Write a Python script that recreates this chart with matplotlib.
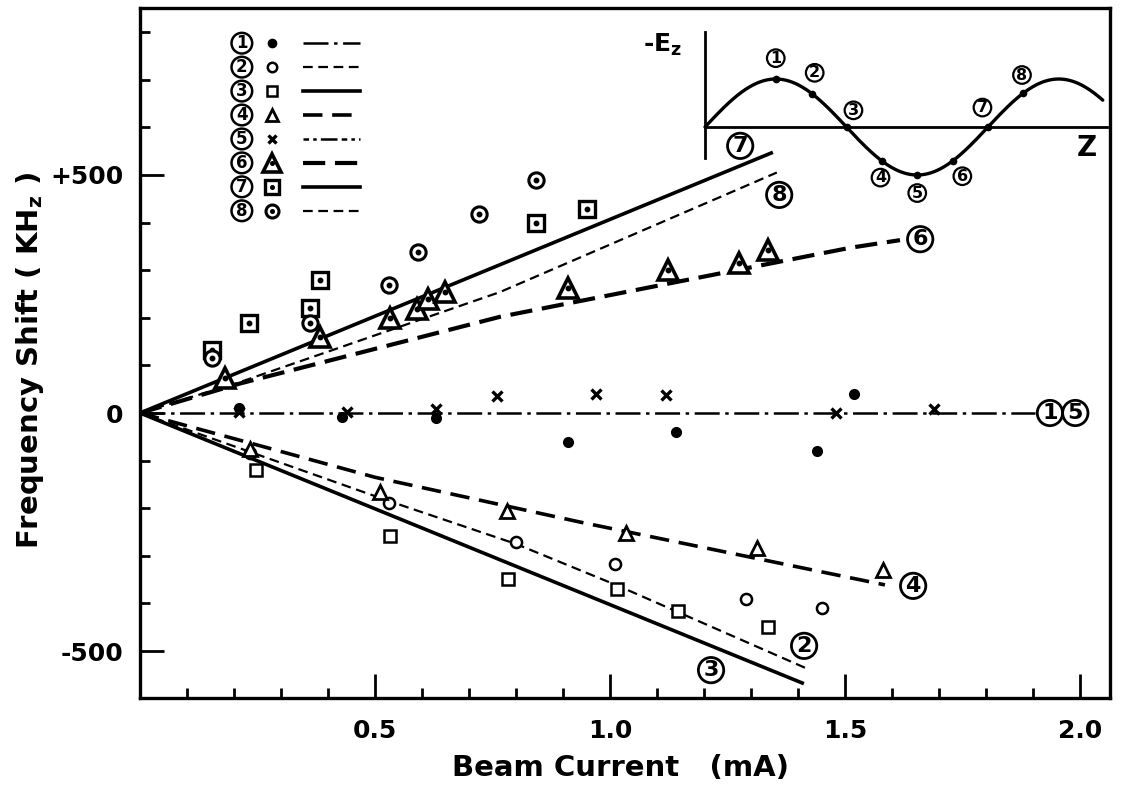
import numpy as np
import matplotlib
matplotlib.use("Agg")
import matplotlib.pyplot as plt

plt.rcParams['font.family'] = ['DejaVu Sans']
plt.rcParams['lines.scale_dashes'] = False

# ---------------- data ----------------
# measured points: beam current (mA) / frequency shift (kHz)
x1 = [0.21, 0.43, 0.63, 0.91, 1.14, 1.44, 1.52]
y1 = [10, -8, -10, -61, -40, -80, 40]
x2 = [0.235, 0.53, 0.80, 1.01, 1.29, 1.45]
y2 = [-85, -189, -271, -318, -391, -410]
x3 = [0.247, 0.532, 0.783, 1.015, 1.145, 1.336]
y3 = [-120, -258, -349, -369, -416, -450]
x4 = [0.233, 0.511, 0.78, 1.034, 1.312, 1.581]
y4 = [-75, -166, -206, -252, -284, -330]
x5 = [0.21, 0.44, 0.63, 0.76, 0.97, 1.12, 1.48, 1.69]
y5 = [2, 2, 8, 36, 40, 38, 0, 8]
x6 = [0.181, 0.383, 0.532, 0.589, 0.613, 0.649, 0.911, 1.123, 1.274, 1.336]
y6 = [74, 160, 200, 218, 239, 254, 263, 300, 315, 342]
x7 = [0.153, 0.232, 0.362, 0.383, 0.843, 0.951]
y7 = [132, 189, 220, 279, 399, 428]
x8 = [0.153, 0.362, 0.530, 0.591, 0.721, 0.843]
y8 = [116, 189, 269, 338, 418, 489]

# hand-drawn fit lines
l15_x = [0, 1.905]; l15_y = [0, 0]
l2_x = [0, 0.53, 0.80, 1.015, 1.415]; l2_y = [0, -185, -275, -362, -535]
l3_x = [0, 1.409]; l3_y = [0, -567]
l4_x = [0, 0.234, 0.5, 0.936, 1.585]; l4_y = [0, -63, -135, -229, -361]
l6_x = [0, 0.213, 0.766, 1.511, 1.617]; l6_y = [0, 62, 202, 347, 363]
l7_x = [0, 1.343]; l7_y = [0, 546]
l8_x = [0, 0.213, 0.766, 1.355]; l8_y = [0, 65, 254, 505]

# line end labels
lab_names = ['7', '8', '6', '4', '2', '3', '1', '5']
lab_x = [1.277, 1.36, 1.66, 1.645, 1.413, 1.215, 1.936, 1.99]
lab_y = [561, 458, 365, -363, -489, -540, 0, 0]

# tick labels
xticks = [0.5, 1.0, 1.5, 2.0]
xticklabels = ['0.5', '1.0', '1.5', '2.0']
yticks = [-500, 0, 500]
yticklabels = ['-500', '0', '+500']

# inset: phase positions (deg) of the eight beam positions on -Ez(z)
inset_names = ['1', '2', '3', '4', '5', '6', '7', '8']
inset_phase = [90, 136, 180, 225, 270, 315, 360, 405]

# ---------------- figure ----------------
W, H = 1130, 790
fig = plt.figure(figsize=(W / 100, H / 100), dpi=100)
L, R, T, B = 140, 1110, 8, 698
ax = fig.add_axes([L / W, 1 - B / H, (R - L) / W, (B - T) / H])
ax.set_xlim(0, (R - L) / 470.0)
ax.set_ylim(-(B - 413) * 2.1, (413 - T) * 2.1)

for s in ax.spines.values():
    s.set_linewidth(2.4)

ax.set_xticks(xticks)
ax.set_xticklabels(xticklabels, fontweight='bold')
ax.set_xticks(np.arange(0.1, 2.05, 0.1), minor=True)
ax.set_yticks(yticks)
ax.set_yticklabels(yticklabels, fontweight='bold')
ax.set_yticks(np.arange(-500, 801, 100), minor=True)
ax.tick_params(which='major', direction='in', length=17, width=2, labelsize=18)
ax.tick_params(which='minor', direction='in', length=7, width=2)
ax.tick_params(axis='x', which='major', pad=15)
ax.tick_params(axis='y', which='major', pad=12)

ax.set_xlabel('Beam Current   (mA)', fontsize=21, fontweight='bold', va='center')
ax.xaxis.set_label_coords((620 - L) / (R - L), (B - 768) / (B - T))
ax.set_ylabel('Frequency Shift ( KH$_\\mathregular{z}$ )', fontsize=21,
              fontweight='bold', va='center')
ax.yaxis.set_label_coords((30 - L) / (R - L), (B - 360) / (B - T))

k = 'black'
# lines
style15 = dict(color=k, lw=1.8, dashes=(18, 4, 2.5, 4))
style2 = dict(color=k, lw=1.6, dashes=(7, 4))
style3 = dict(color=k, lw=2.6, ls='-')
style4 = dict(color=k, lw=2.6, dashes=(14, 7))
style5 = dict(color=k, lw=1.8, dashes=(4, 3, 2.5, 3, 12, 3))
style6 = dict(color=k, lw=3.0, dashes=(16, 7))
style7 = dict(color=k, lw=2.6, ls='-')
style8 = dict(color=k, lw=1.6, dashes=(7, 4))

ax.plot(l15_x, l15_y, **style15)
ax.plot(l2_x, l2_y, **style2)
ax.plot(l3_x, l3_y, **style3)
ax.plot(l4_x, l4_y, **style4)
ax.plot(l6_x, l6_y, **style6)
ax.plot(l7_x, l7_y, **style7)
ax.plot(l8_x, l8_y, **style8)

# markers
m1 = dict(marker='o', ms=7, mfc=k, mec=k, ls='none')
m2 = dict(marker='o', ms=8, mfc='white', mec=k, mew=1.8, ls='none')
m3 = dict(marker='s', ms=8, mfc='white', mec=k, mew=1.8, ls='none')
m4 = dict(marker='^', ms=10, mfc='white', mec=k, mew=2.0, ls='none')
m5 = dict(marker='x', ms=7, mec=k, mew=2.4, ls='none')
m6 = dict(marker='^', ms=15, mfc='white', mec=k, mew=2.6, ls='none')
m7 = dict(marker='s', ms=12, mfc='white', mec=k, mew=2.4, ls='none')
m8 = dict(marker='o', ms=11, mfc='white', mec=k, mew=2.2, ls='none')
dot = dict(marker='o', ms=3.2, mfc=k, mec=k, ls='none')

ax.plot(x1, y1, **m1)
ax.plot(x2, y2, **m2)
ax.plot(x3, y3, **m3)
ax.plot(x4, y4, **m4)
ax.plot(x5, y5, **m5)
ax.plot(x6, y6, **m6)
ax.plot(x6, y6, **dot)
ax.plot(x7, y7, **m7)
ax.plot(x7, y7, **dot)
ax.plot(x8, y8, **m8)
ax.plot(x8, y8, **dot)


def circled(axis, x, y, s, size, transform=None, pad=0.12, lw=1.8):
    kw = {}
    if transform is not None:
        kw['transform'] = transform
    axis.text(x, y, s, ha='center', va='center', fontsize=size, fontweight='bold',
              bbox=dict(boxstyle='circle,pad=%g' % pad, fc='none', ec='black', lw=lw),
              **kw)


for n, lx, ly in zip(lab_names, lab_x, lab_y):
    circled(ax, lx, ly, n, 16, lw=2.0)

# ---------------- legend (drawn by hand like the original) ----------------
markers = [m1, m2, m3, m4, m5, m6, m7, m8]
styles = [style15, style2, style3, style4, style5, style6, style7, style8]
inner = [False, False, False, False, False, True, True, True]
tA = ax.transAxes
row0, drow = 0.949, 0.0347
for i in range(8):
    yy = row0 - i * drow
    circled(ax, 0.105, yy, str(i + 1), 12, transform=tA, pad=0.08, lw=1.8)
    mk = dict(markers[i])
    mk['ms'] = mk['ms'] * 0.85
    ax.plot([0.136], [yy], transform=tA, clip_on=False, **mk)
    if inner[i]:
        ax.plot([0.136], [yy], transform=tA, clip_on=False, **dict(dot, ms=2.6))
    st = dict(styles[i])
    ax.plot([0.168, 0.227], [yy, yy], transform=tA, **st)

# ---------------- inset: -Ez vs z ----------------
iL, iR, iT, iB = 690, 1112, 20, 200
ia = fig.add_axes([iL / W, 1 - iB / H, (iR - iL) / W, (iB - iT) / H])
ia.set_xlim((iL - 705) * 360 / 283.0, (iR - 705) * 360 / 283.0)
ia.set_ylim((127 - iB) / 48.0, (127 - iT) / 48.0)
ia.axis('off')
ia.patch.set_alpha(0)
ph = np.linspace(0, 506, 400)
ia.plot(ph, np.sin(np.radians(ph)), color=k, lw=2.4, solid_capstyle='round')
ia.plot([0, 511], [0, 0], color=k, lw=2.0)
ia.plot([0, 0], [-0.65, 1.98], color=k, lw=2.0)
pp = np.array(inset_phase, dtype=float)
ia.plot(pp, np.sin(np.radians(pp)), 'o', ms=4.5, color=k)
offs = [(0, 15), (2, 15), (5, 12), (-1, -12), (0, -13), (7, -11), (-4, 14), (-1, 13)]
for n, p, (dx, dy) in zip(inset_names, pp, offs):
    ia.annotate(n, (p, np.sin(np.radians(p))), xytext=(dx, dy), textcoords='offset points',
                ha='center', va='center', fontsize=11.5, fontweight='bold',
                bbox=dict(boxstyle='circle,pad=0.08', fc='none', ec='black', lw=1.6))
fig.text(663 / W, 1 - 45 / H, '-E$_\\mathregular{z}$', fontsize=18, fontweight='bold',
         ha='center', va='center')
fig.text(1087 / W, 1 - 148 / H, 'Z', fontsize=20, fontweight='bold', ha='center', va='center')

fig.savefig('out.png', dpi=100)
